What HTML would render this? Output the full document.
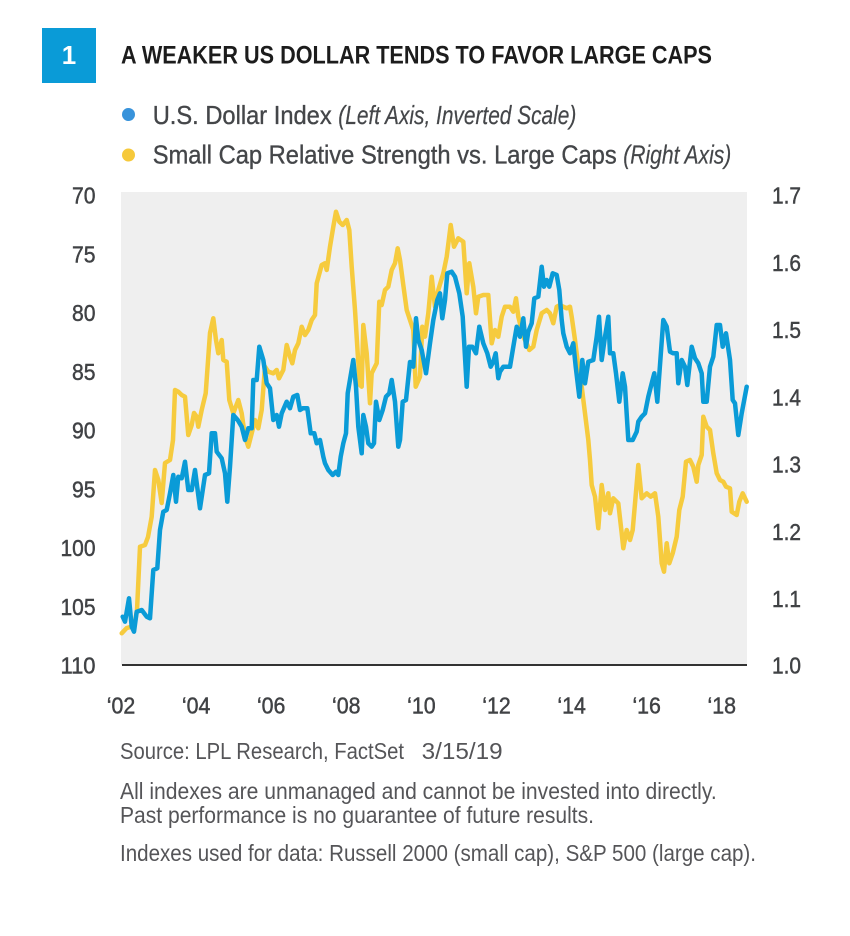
<!DOCTYPE html>
<html>
<head>
<meta charset="utf-8">
<style>
  html, body { margin: 0; padding: 0; background: #fff; }
  svg { display: block; }
  text { font-family: "Liberation Sans Narrow", "Liberation Sans", sans-serif; }
</style>
</head>
<body>
<svg width="850" height="936" viewBox="0 0 850 936" xmlns="http://www.w3.org/2000/svg">
  <rect x="0" y="0" width="850" height="936" fill="#ffffff"/>

  <!-- Title -->
  <rect x="42" y="28" width="54" height="55" fill="#0a9bd7"/>
  <text x="69" y="64" text-anchor="middle" fill="#ffffff" font-weight="bold" font-size="26">1</text>
  <text x="121" y="63.5" font-weight="bold" font-size="25" fill="#1c1c1c" textLength="591" lengthAdjust="spacingAndGlyphs">A WEAKER US DOLLAR TENDS TO FAVOR LARGE CAPS</text>

  <!-- Legend -->
  <g stroke="#444649" stroke-width="0.35">
  <circle cx="128.5" cy="114.5" r="6.5" fill="#3893db" stroke="none"/>
  <text x="152.7" y="124" font-size="26" fill="#444649" textLength="179" lengthAdjust="spacingAndGlyphs">U.S. Dollar Index</text>
  <text x="338.3" y="124" font-size="26" font-style="italic" fill="#444649" stroke-width="0.2" textLength="238" lengthAdjust="spacingAndGlyphs">(Left Axis, Inverted Scale)</text>

  <circle cx="128.5" cy="155" r="6.5" fill="#f6c93b" stroke="none"/>
  <text x="152.7" y="163.5" font-size="26" fill="#444649" textLength="464" lengthAdjust="spacingAndGlyphs">Small Cap Relative Strength vs. Large Caps</text>
  <text x="623.3" y="163.5" font-size="26" font-style="italic" fill="#444649" stroke-width="0.2" textLength="108" lengthAdjust="spacingAndGlyphs">(Right Axis)</text>
  </g>

  <!-- Plot area -->
  <rect x="121" y="192" width="626" height="473" fill="#efefef"/>

  <!-- Left axis labels -->
  <g font-size="23" fill="#404245" stroke="#404245" stroke-width="0.45" text-anchor="end">
    <text x="95.5" y="203.5" textLength="23.5" lengthAdjust="spacingAndGlyphs">70</text>
    <text x="95.5" y="262.3" textLength="23.5" lengthAdjust="spacingAndGlyphs">75</text>
    <text x="95.5" y="321" textLength="23.5" lengthAdjust="spacingAndGlyphs">80</text>
    <text x="95.5" y="379.8" textLength="23.5" lengthAdjust="spacingAndGlyphs">85</text>
    <text x="95.5" y="438.5" textLength="23.5" lengthAdjust="spacingAndGlyphs">90</text>
    <text x="95.5" y="497.3" textLength="23.5" lengthAdjust="spacingAndGlyphs">95</text>
    <text x="95.5" y="556" textLength="35" lengthAdjust="spacingAndGlyphs">100</text>
    <text x="95.5" y="614.8" textLength="35" lengthAdjust="spacingAndGlyphs">105</text>
    <text x="95.5" y="673.5" textLength="35" lengthAdjust="spacingAndGlyphs">110</text>
  </g>

  <!-- Right axis labels -->
  <g font-size="23" fill="#404245" stroke="#404245" stroke-width="0.45">
    <text x="772" y="203.5" textLength="29" lengthAdjust="spacingAndGlyphs">1.7</text>
    <text x="772" y="270.8" textLength="29" lengthAdjust="spacingAndGlyphs">1.6</text>
    <text x="772" y="338" textLength="29" lengthAdjust="spacingAndGlyphs">1.5</text>
    <text x="772" y="405.3" textLength="29" lengthAdjust="spacingAndGlyphs">1.4</text>
    <text x="772" y="472.5" textLength="29" lengthAdjust="spacingAndGlyphs">1.3</text>
    <text x="772" y="539.8" textLength="29" lengthAdjust="spacingAndGlyphs">1.2</text>
    <text x="772" y="607" textLength="29" lengthAdjust="spacingAndGlyphs">1.1</text>
    <text x="772" y="673.5" textLength="29" lengthAdjust="spacingAndGlyphs">1.0</text>
  </g>

  <!-- X axis labels -->
  <g font-size="23" fill="#404245" stroke="#404245" stroke-width="0.45" text-anchor="middle">
    <text x="121" y="713.5" textLength="28.5" lengthAdjust="spacingAndGlyphs">‘02</text>
    <text x="196.1" y="713.5" textLength="28.5" lengthAdjust="spacingAndGlyphs">‘04</text>
    <text x="271.2" y="713.5" textLength="28.5" lengthAdjust="spacingAndGlyphs">‘06</text>
    <text x="346.3" y="713.5" textLength="28.5" lengthAdjust="spacingAndGlyphs">‘08</text>
    <text x="421.4" y="713.5" textLength="28.5" lengthAdjust="spacingAndGlyphs">‘10</text>
    <text x="496.5" y="713.5" textLength="28.5" lengthAdjust="spacingAndGlyphs">‘12</text>
    <text x="571.6" y="713.5" textLength="28.5" lengthAdjust="spacingAndGlyphs">‘14</text>
    <text x="646.7" y="713.5" textLength="28.5" lengthAdjust="spacingAndGlyphs">‘16</text>
    <text x="721.8" y="713.5" textLength="28.5" lengthAdjust="spacingAndGlyphs">‘18</text>
  </g>

  <!-- Yellow series: Small Cap Relative Strength -->
  <polyline fill="none" stroke="#f6cb3e" stroke-width="4.5" stroke-linejoin="round" stroke-linecap="round"
    points="121.7,633.3 126.7,628 131.7,626.7 135,622 137,610 140,546.7 145,545 148,537 151.7,516.7 155,470 158.3,480 161.7,503 165,463 170,460 173,440 175,390 178.3,391.7 181.7,395 185,396.7 188.3,435 191.7,425 194,413 196.7,416.7 198.3,426.7 201.7,410 205.7,393.3 210,333 213.3,318.3 216,340 218.3,353.3 221.7,340 223.3,360 226.7,361.7 229.3,400 233.3,413.3 238.3,400 241.7,413.3 245,436.7 248.3,446.7 251.7,433.3 255,420 258.3,428.3 261.7,410 265,366.7 268.3,371.7 273.3,373.3 276.7,370 279,378.3 283.3,370 286.7,345 290,356.7 292.3,363.3 295,350 298.3,343.3 301.7,326.7 305,335 308.3,330 311.7,320 315,315 316.7,283.3 321.7,265 325,263.3 326.7,270 330,246.7 333.3,226.7 336,211.7 339.3,221.7 342.7,225 346.7,220 349.3,230 351.7,266.7 355,310 357.7,353.3 360,385 361.7,386.7 363.3,325 366.7,353.3 370,403.3 371.7,373.3 376.7,363.3 379.3,301.7 381.7,305 385,290 388.3,286.7 391.7,270 395,263.3 397.7,248.3 400,260 403.3,285 406.7,310 410,320 413.3,330 415.7,386.7 420,376.7 422.3,326.7 425,336.7 428.3,313.3 431.7,276.7 435,306.7 438.3,290 443.3,273.3 446.7,256.7 450.7,225 454,246.7 458.3,238.3 463.3,241.7 466.7,293.3 469.3,263.3 473.3,286.7 476,313.3 478.3,296.7 483.3,295 488.3,295 491.7,343.3 495,330 498.3,336.7 501.7,316.7 505,306.7 510,306.7 513.3,311.7 516,298.3 518.3,316.7 523.3,336.7 526.7,343.3 529.3,350 533.3,346.7 536.7,330 541.7,313.3 546.7,310 550,313.3 553.3,323.3 556.7,306.7 560,305 563.3,306.7 566.7,308.3 570,306.7 571.7,316.7 575,340 578.3,366.7 581.7,386.7 585,413.3 588.3,440 590,460 591.7,485 595,496.7 598.3,528.3 601.7,485 605,510 608.3,493.3 610,513.3 613.3,498.3 618.3,503.3 621.7,533.3 623.3,548.3 626.7,530 630,540 632.7,530 635.3,500 638.3,465 641.7,498.3 646.7,493.3 650.7,496.7 655,493.3 658.3,516.7 661.7,563.3 664,571.7 666.7,543.3 669.3,563.3 672.7,553.3 676.7,536.7 679.3,510 682.7,496.7 686,461.7 690,460 693.3,466.7 696.7,481.7 698.3,465 701.7,455 703.3,416.7 706.7,426.7 710,430 713.3,453.3 716.7,473.3 720,480 723.3,481.7 726,486.7 730,488.3 731.7,511.7 736.7,515 739.3,501.7 742.7,493.3 746.7,501.7"/>

  <!-- Blue series: U.S. Dollar Index (inverted) -->
  <polyline fill="none" stroke="#0a9bd7" stroke-width="4.5" stroke-linejoin="round" stroke-linecap="round"
    points="122.7,616.7 125,621.7 129,598.3 131.7,626.7 134,631.7 136.7,611.7 141.7,610 146.7,616.7 150,618.3 153.3,570 157.3,568.3 160,530 163.3,511.7 166.7,510 170,493.3 173.3,475 176,501.7 178.3,476.7 181.7,478.3 185,461.7 188.3,490 191.7,490 195,470 200,508.3 205,475 209,473.3 211.7,433.3 215,433.3 216.7,451.7 221.7,458.3 225,473.3 227.3,501.7 230,466.7 233.3,415 237.7,420 241.7,426.7 245,440 248.3,428.3 251.7,428.3 253.3,380 256.7,380 259.3,346.7 263.3,360 266.7,383.3 270,388.3 273.3,420 276.7,415 279,426.7 281.7,413.3 286.7,401.7 290,408.3 293.3,396.7 297.3,395 300,410 302.7,408.3 307.3,408.3 310.7,433.3 314.3,433.3 316.7,443.3 320,440 323.3,456.7 325,463.3 328.3,470 332.7,475 336,471.7 338.3,475 340.7,456.7 343.3,443.3 346,433.3 347.7,393.3 353.3,360 356,386.7 358.3,426.7 361.7,453.3 363.3,415 366,426.7 368.3,443.3 371.7,446.7 374,443.3 376,401.7 379.3,420 382.7,410 386,396.7 389.3,393.3 391.7,380 395,401.7 398.3,446.7 400,440 402.7,401.7 406,400 410,362 413.3,366.7 416,318.3 418.3,340 421.7,350 426,373.3 430,343.3 433.3,320 437.3,300 440,293.3 442.3,318.3 445,300 447.3,273.3 451.7,271.7 455,276.7 459.3,293.3 462.7,316.7 466.7,386.7 469,346.7 472.3,346.7 476,353.3 479.3,326.7 483.3,343.3 487.3,353.3 490.7,366.7 493.3,361.7 495.7,353.3 498.3,378.3 500,371.7 503.3,366.7 510,366.7 513.3,346.7 516.7,326.7 520,336.7 523.3,318.3 526,346.7 528.3,331.7 531.7,323.3 534.3,298.3 538.3,296.7 541.7,266.7 544,286.7 546.7,280 549.3,286.7 552.7,273.3 556.7,275 559.3,290 561.7,320 563.3,333.3 566.7,346.7 570,353.3 573.3,343.3 575.7,366.7 579.3,396.7 582.3,360 585,383.3 588.3,361.7 593.3,360 596.7,336.7 599,316.7 601.7,360 605,336.7 608.3,316.7 610,353.3 613.3,353.3 616,373.3 619.3,401.7 622.7,373.3 625,386.7 628.3,440 632.7,440 636.7,431.7 638.3,421.7 641.7,416.7 645,413.3 648.3,396.7 651.7,383.3 654.3,373.3 657.3,401.7 660,365 663.3,320 666.7,326.7 670,351.7 673.3,353.3 676.7,353.3 678.3,383.3 681.7,360 685,366.7 687.3,385 691.7,346.7 695,358.3 698.3,363.3 701.7,373.3 703.3,401.7 706.7,401.7 710,366.7 713.3,356.7 716.7,325 720,325 722.7,346.7 726,333.3 730,360 732.7,400 735,403.3 738.3,435 741.7,413.3 746.7,386.7"/>

  <!-- X axis line -->
  <line x1="122" y1="665" x2="747" y2="665" stroke="#333333" stroke-width="2"/>

  <!-- Footer -->
  <g font-size="23" fill="#555558">
    <text x="120" y="759" textLength="284" lengthAdjust="spacingAndGlyphs">Source: LPL Research, FactSet</text>
    <text x="421.7" y="759" textLength="81" lengthAdjust="spacingAndGlyphs">3/15/19</text>
    <text x="120" y="799" textLength="596.7" lengthAdjust="spacingAndGlyphs">All indexes are unmanaged and cannot be invested into directly.</text>
    <text x="120" y="823" textLength="474" lengthAdjust="spacingAndGlyphs">Past performance is no guarantee of future results.</text>
    <text x="120" y="861" textLength="636" lengthAdjust="spacingAndGlyphs">Indexes used for data: Russell 2000 (small cap), S&amp;P 500 (large cap).</text>
  </g>
</svg>
</body>
</html>
